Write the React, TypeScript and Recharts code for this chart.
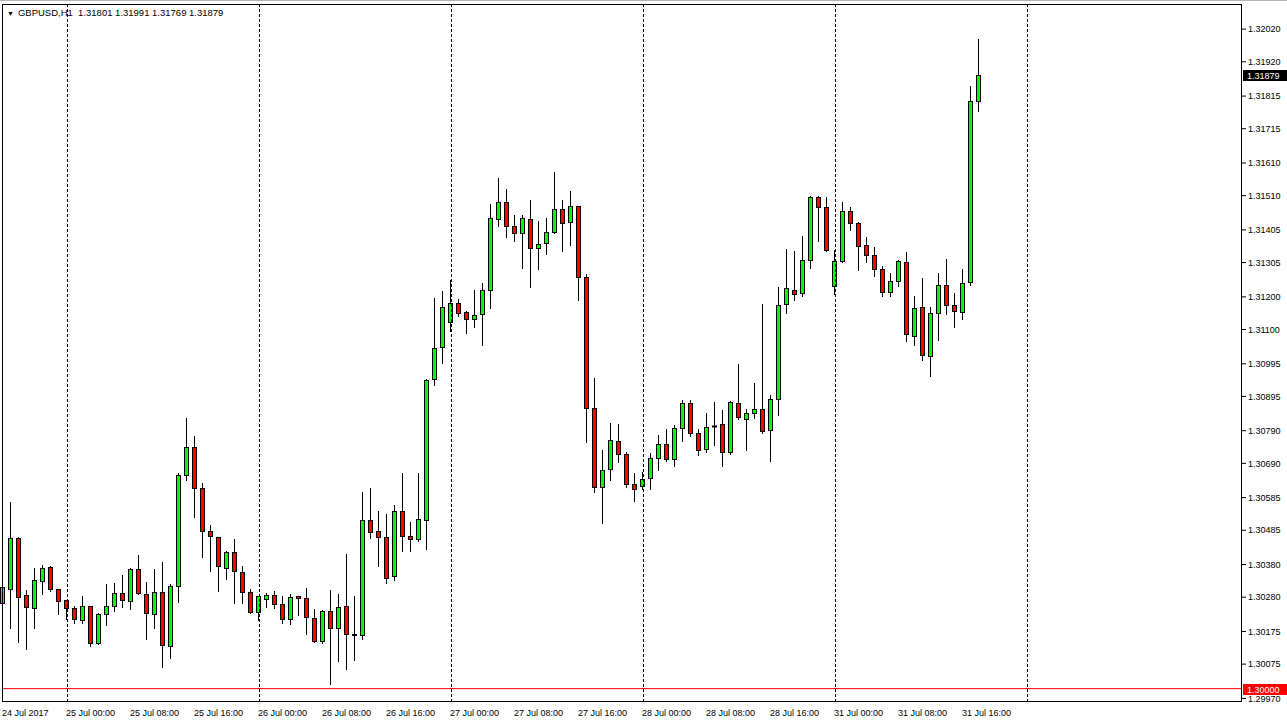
import React from 'react';
import { ComposedChart, Bar, XAxis, YAxis, ReferenceLine } from 'recharts';

// GBPUSD H1, 24 Jul 16:00 .. 31 Jul 18:00
const opens = [
  1.30262, 1.30305, 1.30461, 1.30286, 1.30246, 1.30329, 1.30372, 1.30305, 1.30271, 1.30246,
  1.30210, 1.30253, 1.30139, 1.30228, 1.30253, 1.30292, 1.30268, 1.30366, 1.30289, 1.30228,
  1.30296, 1.30130, 1.30314, 1.30654, 1.30740, 1.30614, 1.30482, 1.30464, 1.30369, 1.30418,
  1.30357, 1.30296, 1.30234, 1.30274, 1.30286, 1.30259, 1.30213, 1.30283, 1.30277, 1.30216,
  1.30145, 1.30237, 1.30185, 1.30253, 1.30167, 1.30164, 1.30516, 1.30482, 1.30464, 1.30345,
  1.30544, 1.30467, 1.30458, 1.30516, 1.30948, 1.31046, 1.31122, 1.31181, 1.31153, 1.31132,
  1.31147, 1.31220, 1.31438, 1.31490, 1.31417, 1.31395, 1.31438, 1.31349, 1.31365, 1.31398,
  1.31469, 1.31429, 1.31478, 1.31260, 1.30859, 1.30617, 1.30672, 1.30758, 1.30718, 1.30626,
  1.30620, 1.30645, 1.30706, 1.30749, 1.30703, 1.30798, 1.30874, 1.30782, 1.30734, 1.30805,
  1.30810, 1.30724, 1.30874, 1.30825, 1.30844, 1.30856, 1.30792, 1.30887, 1.31178, 1.31221,
  1.31211, 1.31312, 1.31505, 1.31475, 1.31233, 1.31309, 1.31463, 1.31426, 1.31358, 1.31328,
  1.31285, 1.31214, 1.31248, 1.31306, 1.31080, 1.31169, 1.31018, 1.31150, 1.31236, 1.31175,
  1.31153, 1.31245, 1.31801,
];

const highs = [
  1.30314, 1.30571, 1.30464, 1.30302, 1.30369, 1.30378, 1.30375, 1.30306, 1.30272, 1.30253,
  1.30283, 1.30254, 1.30231, 1.30320, 1.30323, 1.30348, 1.30368, 1.30409, 1.30326, 1.30366,
  1.30387, 1.30320, 1.30660, 1.30828, 1.30773, 1.30629, 1.30501, 1.30465, 1.30421, 1.30458,
  1.30375, 1.30305, 1.30284, 1.30292, 1.30298, 1.30283, 1.30289, 1.30284, 1.30308, 1.30243,
  1.30240, 1.30302, 1.30289, 1.30412, 1.30283, 1.30602, 1.30614, 1.30544, 1.30534, 1.30562,
  1.30660, 1.30510, 1.30660, 1.30948, 1.31196, 1.31217, 1.31251, 1.31193, 1.31156, 1.31221,
  1.31242, 1.31484, 1.31564, 1.31530, 1.31450, 1.31450, 1.31496, 1.31432, 1.31441, 1.31582,
  1.31496, 1.31524, 1.31479, 1.31270, 1.30951, 1.30730, 1.30813, 1.30810, 1.30724, 1.30660,
  1.30663, 1.30721, 1.30776, 1.30795, 1.30807, 1.30884, 1.30884, 1.30795, 1.30844, 1.30878,
  1.30853, 1.30881, 1.30994, 1.30856, 1.30936, 1.31178, 1.30899, 1.31230, 1.31346, 1.31340,
  1.31386, 1.31508, 1.31508, 1.31505, 1.31343, 1.31490, 1.31475, 1.31429, 1.31383, 1.31352,
  1.31294, 1.31273, 1.31312, 1.31337, 1.31202, 1.31257, 1.31169, 1.31273, 1.31316, 1.31211,
  1.31285, 1.31845, 1.31991,
];

const lows = [
  1.30188, 1.30185, 1.30142, 1.30121, 1.30185, 1.30289, 1.30298, 1.30228, 1.30213, 1.30200,
  1.30200, 1.30130, 1.30138, 1.30194, 1.30237, 1.30250, 1.30243, 1.30290, 1.30152, 1.30185,
  1.30066, 1.30093, 1.30265, 1.30639, 1.30525, 1.30403, 1.30360, 1.30298, 1.30335, 1.30262,
  1.30262, 1.30233, 1.30210, 1.30250, 1.30246, 1.30200, 1.30197, 1.30225, 1.30167, 1.30144,
  1.30139, 1.30014, 1.30084, 1.30060, 1.30087, 1.30152, 1.30461, 1.30375, 1.30323, 1.30332,
  1.30421, 1.30421, 1.30452, 1.30427, 1.30930, 1.30997, 1.31095, 1.31141, 1.31089, 1.31107,
  1.31052, 1.31165, 1.31417, 1.31383, 1.31371, 1.31288, 1.31230, 1.31285, 1.31331, 1.31397,
  1.31340, 1.31358, 1.31190, 1.30755, 1.30602, 1.30507, 1.30639, 1.30694, 1.30617, 1.30574,
  1.30611, 1.30611, 1.30669, 1.30697, 1.30681, 1.30758, 1.30773, 1.30715, 1.30724, 1.30746,
  1.30681, 1.30718, 1.30825, 1.30730, 1.30829, 1.30782, 1.30697, 1.30838, 1.31150, 1.31190,
  1.31202, 1.31288, 1.31371, 1.31340, 1.31208, 1.31308, 1.31404, 1.31282, 1.31306, 1.31263,
  1.31202, 1.31202, 1.31233, 1.31064, 1.31052, 1.31006, 1.30957, 1.31067, 1.31147, 1.31107,
  1.31132, 1.31236, 1.31769,
];

const closes = [
  1.30311, 1.30461, 1.30280, 1.30250, 1.30332, 1.30369, 1.30305, 1.30268, 1.30246, 1.30213,
  1.30253, 1.30139, 1.30228, 1.30253, 1.30292, 1.30271, 1.30366, 1.30292, 1.30231, 1.30296,
  1.30133, 1.30314, 1.30654, 1.30740, 1.30614, 1.30482, 1.30467, 1.30375, 1.30418, 1.30360,
  1.30296, 1.30234, 1.30283, 1.30286, 1.30259, 1.30213, 1.30280, 1.30277, 1.30219, 1.30145,
  1.30237, 1.30185, 1.30250, 1.30167, 1.30164, 1.30516, 1.30479, 1.30464, 1.30338, 1.30544,
  1.30467, 1.30458, 1.30519, 1.30945, 1.31043, 1.31168, 1.31181, 1.31150, 1.31132, 1.31144,
  1.31220, 1.31441, 1.31490, 1.31417, 1.31395, 1.31441, 1.31349, 1.31361, 1.31398, 1.31469,
  1.31426, 1.31478, 1.31260, 1.30859, 1.30617, 1.30669, 1.30761, 1.30718, 1.30626, 1.30611,
  1.30642, 1.30706, 1.30749, 1.30703, 1.30798, 1.30874, 1.30782, 1.30730, 1.30801, 1.30805,
  1.30724, 1.30878, 1.30832, 1.30844, 1.30856, 1.30789, 1.30887, 1.31175, 1.31227, 1.31208,
  1.31312, 1.31505, 1.31475, 1.31343, 1.31309, 1.31463, 1.31426, 1.31355, 1.31328, 1.31285,
  1.31214, 1.31248, 1.31309, 1.31086, 1.31165, 1.31022, 1.31150, 1.31236, 1.31175, 1.31156,
  1.31242, 1.31801, 1.31879,
];

const xTickIdx = [0, 8, 16, 24, 32, 40, 48, 56, 64, 72, 80, 88, 96, 104, 112, 120];
const xTickLabels = [
  '24 Jul 2017', '25 Jul 00:00', '25 Jul 08:00', '25 Jul 16:00', '26 Jul 00:00', '26 Jul 08:00',
  '26 Jul 16:00', '27 Jul 00:00', '27 Jul 08:00', '27 Jul 16:00', '28 Jul 00:00', '28 Jul 08:00',
  '28 Jul 16:00', '31 Jul 00:00', '31 Jul 08:00', '31 Jul 16:00',
];
const daySeparators = [8, 32, 56, 80, 104, 128];

const yTicks = [
  1.32020, 1.31920, 1.31815, 1.31715, 1.31610, 1.31510, 1.31405, 1.31305, 1.31200, 1.31100,
  1.30995, 1.30895, 1.30790, 1.30690, 1.30585, 1.30485, 1.30380, 1.30280, 1.30175, 1.30075,
  1.29970,
];
const levelLine = 1.30000;
const symbol = 'GBPUSD,H1';

// empty slots on the right = chart shift
const SLOTS = 155;
const last = opens.length - 1;
const data = Array.from({ length: SLOTS }, (_, i) =>
  i <= last
    ? { i, o: opens[i], h: highs[i], l: lows[i], c: closes[i], range: [lows[i], highs[i]] }
    : { i }
);

const FONT = "'Liberation Sans', Arial, sans-serif";

function Candle(props: any) {
  const { x, y, width, height, payload } = props;
  if (!payload || payload.o == null) return null;
  const { o, h, l, c } = payload;
  const cx = Math.floor(x + width / 2) + 0.5;
  const k = h === l ? 0 : height / (h - l);
  const yo = y + (h - o) * k;
  const yc = y + (h - c) * k;
  const top = Math.round(Math.min(yo, yc)) + 0.5;
  const bot = Math.round(Math.max(yo, yc)) + 0.5;
  const fill = c > o ? '#00ff00' : '#ff0000';
  return (
    <g>
      <line x1={cx} x2={cx} y1={Math.round(y)} y2={Math.round(y + height) + 1} stroke="#000" strokeWidth={1} />
      {o === c ? (
        <line x1={cx - 2.5} x2={cx + 2.5} y1={top} y2={top} stroke="#000" strokeWidth={2} />
      ) : (
        <rect x={cx - 2} y={top} width={4} height={Math.max(bot - top, 1)} fill={fill} stroke="#000" strokeWidth={1} />
      )}
    </g>
  );
}

function DayLine(props: any) {
  const { x1, y1, y2 } = props;
  const px = Math.floor(x1) + 0.5;
  return <line x1={px} x2={px} y1={y1} y2={y2} stroke="#000" strokeWidth={1} strokeDasharray="3 2" />;
}

function XTick(props: any) {
  const { x, y, payload } = props;
  const idx = xTickIdx.indexOf(payload.value);
  return (
    <text x={x - 1} y={y + 12} fontSize={9} fontFamily={FONT} fill="#000" textAnchor="start">
      {xTickLabels[idx]}
    </text>
  );
}

function PriceTag(props: any) {
  const { viewBox, bg, text } = props;
  if (!viewBox) return null;
  const bx = viewBox.x + viewBox.width + 1;
  const by = Math.round(viewBox.y) - 5;
  return (
    <g>
      <rect x={bx} y={by} width={46} height={11} fill={bg} />
      <text x={bx + 4} y={by + 9} fontSize={9} fontFamily={FONT} fill="#fff">
        {text}
      </text>
    </g>
  );
}

export default function App() {
  return (
    <div style={{ position: 'absolute', left: 0, top: 0, width: 1287, height: 724, background: '#fff' }}>
      <ComposedChart width={1287} height={724} data={data} margin={{ top: 4, right: 0, bottom: 0, left: 2 }}>
        <XAxis
          dataKey="i"
          type="category"
          ticks={xTickIdx}
          interval={0}
          tick={(p: any) => <XTick {...p} />}
          tickLine={false}
          axisLine={false}
          tickSize={0}
          height={22}
          padding={{ left: -3, right: 3 }}
        />
        <YAxis
          orientation="right"
          type="number"
          domain={[1.29959, 1.32097]}
          allowDataOverflow
          ticks={yTicks}
          interval={0}
          tickFormatter={(v: number) => v.toFixed(5)}
          tick={{ fontSize: 9, fontFamily: FONT, fill: '#000' }}
          tickLine={{ stroke: '#000' }}
          tickSize={4}
          tickMargin={2}
          axisLine={false}
          width={45}
        />
        {daySeparators.map((d) => (
          <ReferenceLine key={d} x={d} stroke="#000" shape={(p: any) => <DayLine {...p} />} />
        ))}
        <ReferenceLine y={levelLine} stroke="#ff0000" label={<PriceTag bg="#ff0000" text={levelLine.toFixed(5)} />} />
        <ReferenceLine
          y={closes[last]}
          stroke="none"
          label={<PriceTag bg="#000" text={closes[last].toFixed(5)} />}
        />
        <Bar dataKey="range" shape={Candle} isAnimationActive={false} />
      </ComposedChart>
      <div style={{ position: 'absolute', left: 0, top: 0, width: 1287, height: 1, background: '#b4b4b4' }} />
      <div
        style={{
          position: 'absolute',
          left: 2,
          top: 4,
          width: 1240,
          height: 698,
          border: '1px solid #000',
          boxSizing: 'border-box',
          pointerEvents: 'none',
        }}
      />
      <div
        style={{
          position: 'absolute',
          left: 7,
          top: 7,
          fontFamily: FONT,
          fontSize: 9.5,
          color: '#000',
          whiteSpace: 'pre',
          lineHeight: '12px',
        }}
      >
        <span style={{ fontSize: 7, marginRight: 4 }}>▼</span>
        {`${symbol}  ${opens[last].toFixed(5)} ${highs[last].toFixed(5)} ${lows[last].toFixed(5)} ${closes[last].toFixed(5)}`}
      </div>
    </div>
  );
}
